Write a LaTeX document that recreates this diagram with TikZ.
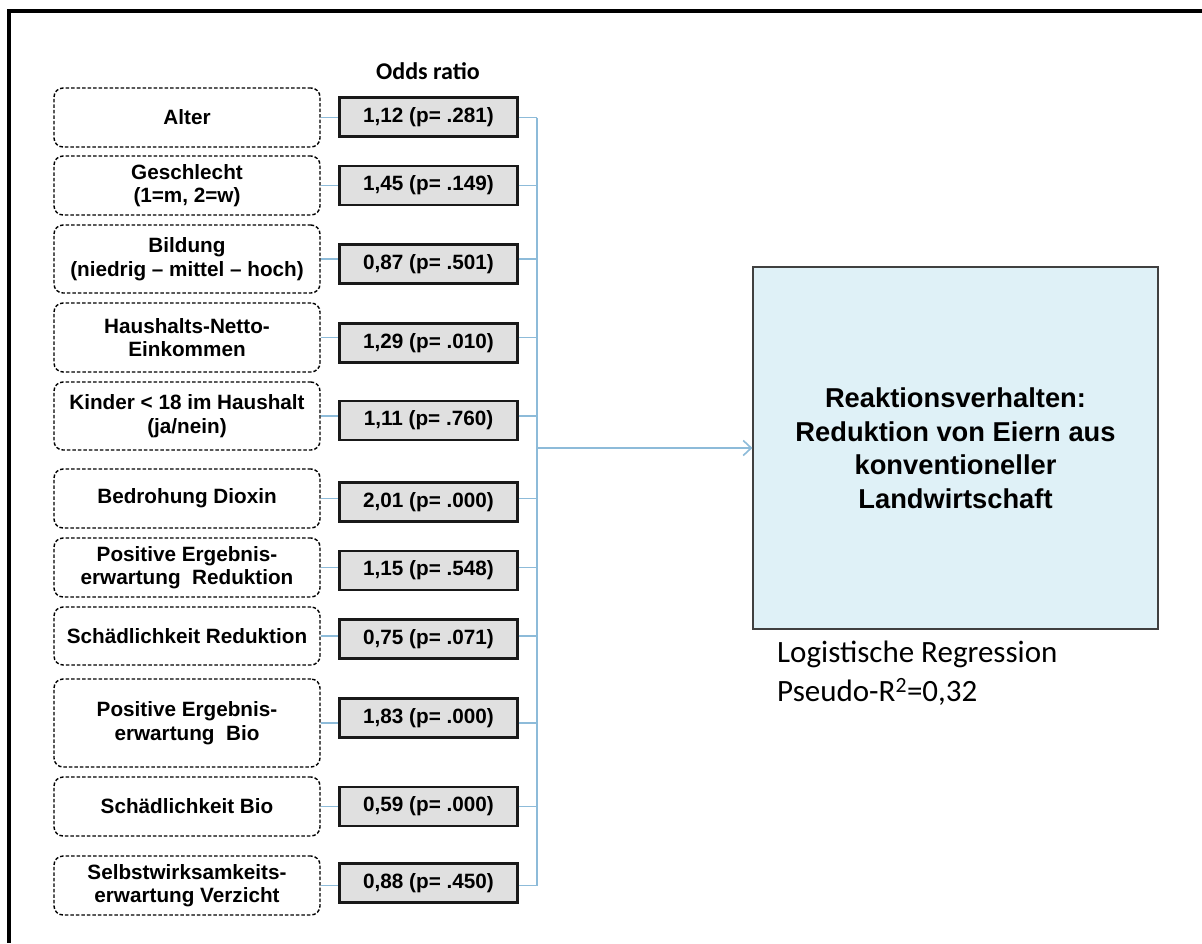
\documentclass[tikz,border=0pt]{standalone}
\usepackage{fontspec}
\setmainfont{Liberation Sans}
\newfontfamily\calibri{Carlito}
\usetikzlibrary{arrows.meta}
\definecolor{conncol}{RGB}{141,187,217}
\definecolor{targetfill}{RGB}{223,241,247}
\definecolor{oddsfill}{RGB}{224,224,224}
\begin{document}
\begin{tikzpicture}[x=1pt,y=-1pt,
  predictor/.style={draw=black, line width=1.4pt, dash pattern=on 3.5pt off 2pt,
    rounded corners=9pt, minimum width=266pt, inner sep=0pt, align=center,
    font=\bfseries\fontsize{20.7}{23.5}\selectfont},
  oddsbox/.style={draw=black!90, line width=2.2pt, fill=oddsfill,
    minimum width=178pt, minimum height=39pt, inner sep=0pt,
    font=\bfseries\fontsize{20.7}{23.5}\selectfont},
  conn/.style={draw=conncol, line width=1.8pt},
  target/.style={draw=black!75, line width=1.2pt, fill=targetfill,
    minimum width=405pt, minimum height=362pt, inner sep=0pt, align=center,
    font=\bfseries\fontsize{27.3}{33.5}\selectfont}]
\useasboundingbox (0,0) rectangle (1202,943);
\fill[white] (0,0) rectangle (1202,943);
% outer frame (top and left edges)
\draw[line width=4pt] (7,11) -- (1202,11);
\draw[line width=4pt] (9,9) -- (9,943);

% header
\node[font=\calibri\bfseries\fontsize{24}{28}\selectfont] (head) at (428,71) {Odds ratio};

% predictors
\node[predictor, minimum height=59pt] (L1) at (187,117.5) {Alter};
\node[predictor, minimum height=59pt] (L2) at (187,185.5) {Geschlecht\\(1=m, 2=w)};
\node[predictor, minimum height=68pt] (L3) at (187,259) {Bildung\\(niedrig -- mittel -- hoch)};
\node[predictor, minimum height=69pt] (L4) at (187,337.5) {Haushalts-Netto-\\Einkommen};
\node[predictor, minimum height=68pt] (L5) at (187,416) {Kinder < 18 im Haushalt\\(ja/nein)};
\node[predictor, minimum height=59pt] (L6) at (187,498.5) {Bedrohung Dioxin};
\node[predictor, minimum height=59pt] (L7) at (187,567.5) {Positive Ergebnis-\\erwartung\ \ Reduktion};
\node[predictor, minimum height=58pt] (L8) at (187,636) {Schädlichkeit Reduktion};
\node[predictor, minimum height=88pt] (L9) at (187,723) {Positive Ergebnis-\\erwartung\ \ Bio};
\node[predictor, minimum height=59pt] (L10) at (187,806.5) {Schädlichkeit Bio};
\node[predictor, minimum height=59pt] (L11) at (187,885.5) {Selbstwirksamkeits-\\erwartung Verzicht};

% odds ratios
\node[oddsbox] (O1) at (428.5,117) {1,12 (p= .281)};
\node[oddsbox] (O2) at (428.5,185.5) {1,45 (p= .149)};
\node[oddsbox] (O3) at (428.5,264) {0,87 (p= .501)};
\node[oddsbox] (O4) at (428.5,343) {1,29 (p= .010)};
\node[oddsbox] (O5) at (428.5,420.5) {1,11 (p= .760)};
\node[oddsbox] (O6) at (428.5,502) {2,01 (p= .000)};
\node[oddsbox] (O7) at (428.5,570.5) {1,15 (p= .548)};
\node[oddsbox] (O8) at (428.5,639) {0,75 (p= .071)};
\node[oddsbox] (O9) at (428.5,718) {1,83 (p= .000)};
\node[oddsbox] (O10) at (428.5,806.5) {0,59 (p= .000)};
\node[oddsbox] (O11) at (428.5,883) {0,88 (p= .450)};

% outcome
\node[target] (T) at (955.5,448) {Reaktionsverhalten:\\Reduktion von Eiern aus\\konventioneller\\Landwirtschaft};
\node[anchor=north west, align=left, inner sep=0pt,
  font=\calibri\fontsize{31}{38.7}\selectfont] (note) at (777,641)
  {Logistische Regression\\Pseudo-R\textsuperscript{2}=0,32};

% connectors
\coordinate (bus) at (537,448);
\foreach \i in {1,...,11}{
  \draw[conn] (L\i.east) -- (L\i.east -| O\i.west);
  \draw[conn] (L\i.east -| O\i.east) -- (L\i.east -| bus);
}
\draw[conn] (L1.east -| bus) -- (L11.east -| bus);
\draw[conn, -{Straight Barb[length=8pt,width=15pt,line width=1.6pt]}] (bus) -- (T.west);
\end{tikzpicture}
\end{document}
